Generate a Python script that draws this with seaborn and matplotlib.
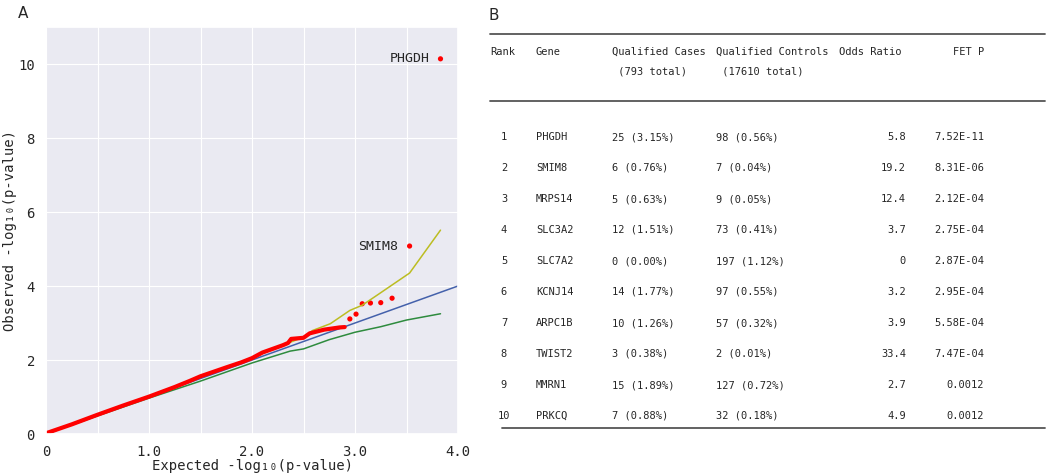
"""QQ plot of gene burden test p-values plus top-10 gene table."""

import matplotlib

matplotlib.use("Agg")
import matplotlib.pyplot as plt
import pandas as pd
import seaborn as sns

# Panel A: observed vs expected -log10(p)
dense_expected = [0.0, 0.25, 0.5, 0.75, 1.0, 1.25, 1.4, 1.5, 1.75, 1.9, 2.0,
                  2.1, 2.2, 2.3, 2.35, 2.38, 2.5, 2.56, 2.7, 2.85, 2.9]
dense_observed = [0.02, 0.26, 0.52, 0.77, 1.01, 1.27, 1.44, 1.56, 1.8, 1.94, 2.05,
                  2.2, 2.3, 2.4, 2.46, 2.57, 2.6, 2.72, 2.82, 2.88, 2.89]
tail_expected = [2.95, 3.01, 3.07, 3.15, 3.25, 3.36, 3.53, 3.83]
tail_observed = [3.11, 3.24, 3.52, 3.54, 3.55, 3.67, 5.08, 10.14]
labelled_genes = {"PHGDH": (3.83, 10.14), "SMIM8": (3.53, 5.08)}

upper_expected = [0.0, 0.5, 1.0, 1.5, 2.0, 2.3, 2.5, 2.59, 2.76, 2.95, 3.07, 3.24, 3.53, 3.83]
upper_observed = [0.02, 0.53, 1.02, 1.55, 2.06, 2.4, 2.62, 2.8, 2.98, 3.34, 3.48, 3.8, 4.35, 5.51]
lower_expected = [0.0, 0.5, 1.0, 1.5, 2.0, 2.37, 2.5, 2.75, 3.0, 3.25, 3.5, 3.83]
lower_observed = [0.0, 0.49, 0.97, 1.43, 1.92, 2.24, 2.3, 2.55, 2.75, 2.9, 3.08, 3.25]
null_line = [0.0, 4.0]

# Panel B: top-ranked genes
ranks = ["1", "2", "3", "4", "5", "6", "7", "8", "9", "10"]
genes = ["PHGDH", "SMIM8", "MRPS14", "SLC3A2", "SLC7A2",
         "KCNJ14", "ARPC1B", "TWIST2", "MMRN1", "PRKCQ"]
cases = ["25 (3.15%)", "6 (0.76%)", "5 (0.63%)", "12 (1.51%)", "0 (0.00%)",
         "14 (1.77%)", "10 (1.26%)", "3 (0.38%)", "15 (1.89%)", "7 (0.88%)"]
controls = ["98 (0.56%)", "7 (0.04%)", "9 (0.05%)", "73 (0.41%)", "197 (1.12%)",
            "97 (0.55%)", "57 (0.32%)", "2 (0.01%)", "127 (0.72%)", "32 (0.18%)"]
odds_ratios = ["5.8", "19.2", "12.4", "3.7", "0", "3.2", "3.9", "33.4", "2.7", "4.9"]
fet_p = ["7.52E-11", "8.31E-06", "2.12E-04", "2.75E-04", "2.87E-04",
         "2.95E-04", "5.58E-04", "7.47E-04", "0.0012", "0.0012"]

sns.set_theme(style="darkgrid", rc={"grid.linewidth": 0.8})
mono = "DejaVu Sans Mono"
plt.rcParams["font.family"] = [mono, "DejaVu Sans"]

fig = plt.figure(figsize=(10.5, 4.75), dpi=100)
ax = fig.add_axes([46 / 1050, 41 / 475, 412 / 1050, 407 / 475])

sns.lineplot(x=null_line, y=null_line, color="#4461ab", lw=1.1, ax=ax)
sns.lineplot(x=upper_expected, y=upper_observed, color="#bcbd22", lw=1.1, sort=False, ax=ax)
sns.lineplot(x=lower_expected, y=lower_observed, color="#2e8b3e", lw=1.1, sort=False, ax=ax)
sns.lineplot(x=dense_expected, y=dense_observed, color="red", lw=3, sort=False,
             solid_capstyle="round", ax=ax)
sns.scatterplot(x=tail_expected, y=tail_observed, color="red", s=14,
                edgecolor="none", ax=ax)

for gene, (gx, gy) in labelled_genes.items():
    ax.annotate(gene, (gx, gy), xytext=(-8, 0), textcoords="offset points",
                ha="right", va="center", fontsize=9.5, family=mono)

ax.set_xlim(0, 4)
ax.set_ylim(0, 11)
xt = [0, 0.5, 1.0, 1.5, 2.0, 2.5, 3.0, 3.5, 4.0]
ax.set_xticks(xt)
ax.set_xticklabels(["0", "", "1.0", "", "2.0", "", "3.0", "", "4.0"], fontsize=10)
ax.set_yticks([0, 2, 4, 6, 8, 10])
ax.set_yticklabels(["0", "2", "4", "6", "8", "10"], fontsize=10)
ax.tick_params(pad=2)
ax.set_xlabel("Expected -log\u2081\u2080(p-value)", fontsize=10, labelpad=0)
ax.set_ylabel("Observed -log\u2081\u2080(p-value)", fontsize=10, labelpad=1)

fig.text(18 / 1050, 1 - 13 / 475, "A", fontsize=11, family="DejaVu Sans", va="center")
fig.text(488 / 1050, 1 - 15 / 475, "B", fontsize=11, family="DejaVu Sans", va="center")

# Table panel, drawn in pixel-like coordinates
tab = fig.add_axes([480 / 1050, 0, 570 / 1050, 1])
tab.set_xlim(480, 1050)
tab.set_ylim(475, 0)
tab.axis("off")

rule = dict(color="#555555", lw=1.3)
tab.plot([490, 1045], [34, 34], **rule)
tab.plot([490, 1045], [101, 101], **rule)
tab.plot([502, 1045], [428, 428], **rule)

fs = 7.5
headers = [("Rank", 490, "left"), ("Gene", 536, "left"),
           ("Qualified Cases", 612, "left"), ("Qualified Controls", 716, "left"),
           ("Odds Ratio", 839, "left"), ("FET P", 984, "right")]
for text, hx, ha in headers:
    tab.text(hx, 52, text, ha=ha, va="center", fontsize=fs, family=mono)
tab.text(612, 72, " (793 total)", ha="left", va="center", fontsize=fs, family=mono)
tab.text(716, 72, " (17610 total)", ha="left", va="center", fontsize=fs, family=mono)

table = pd.DataFrame({"rank": ranks, "gene": genes, "cases": cases,
                      "controls": controls, "or": odds_ratios, "p": fet_p})
for i, row in table.iterrows():
    ry = 137 + 31 * i
    tab.text(504, ry, row["rank"], ha="center", va="center", fontsize=fs, family=mono)
    tab.text(536, ry, row["gene"], ha="left", va="center", fontsize=fs, family=mono)
    tab.text(612, ry, row["cases"], ha="left", va="center", fontsize=fs, family=mono)
    tab.text(716, ry, row["controls"], ha="left", va="center", fontsize=fs, family=mono)
    tab.text(906, ry, row["or"], ha="right", va="center", fontsize=fs, family=mono)
    tab.text(984, ry, row["p"], ha="right", va="center", fontsize=fs, family=mono)

fig.savefig("out.png", dpi=100)
